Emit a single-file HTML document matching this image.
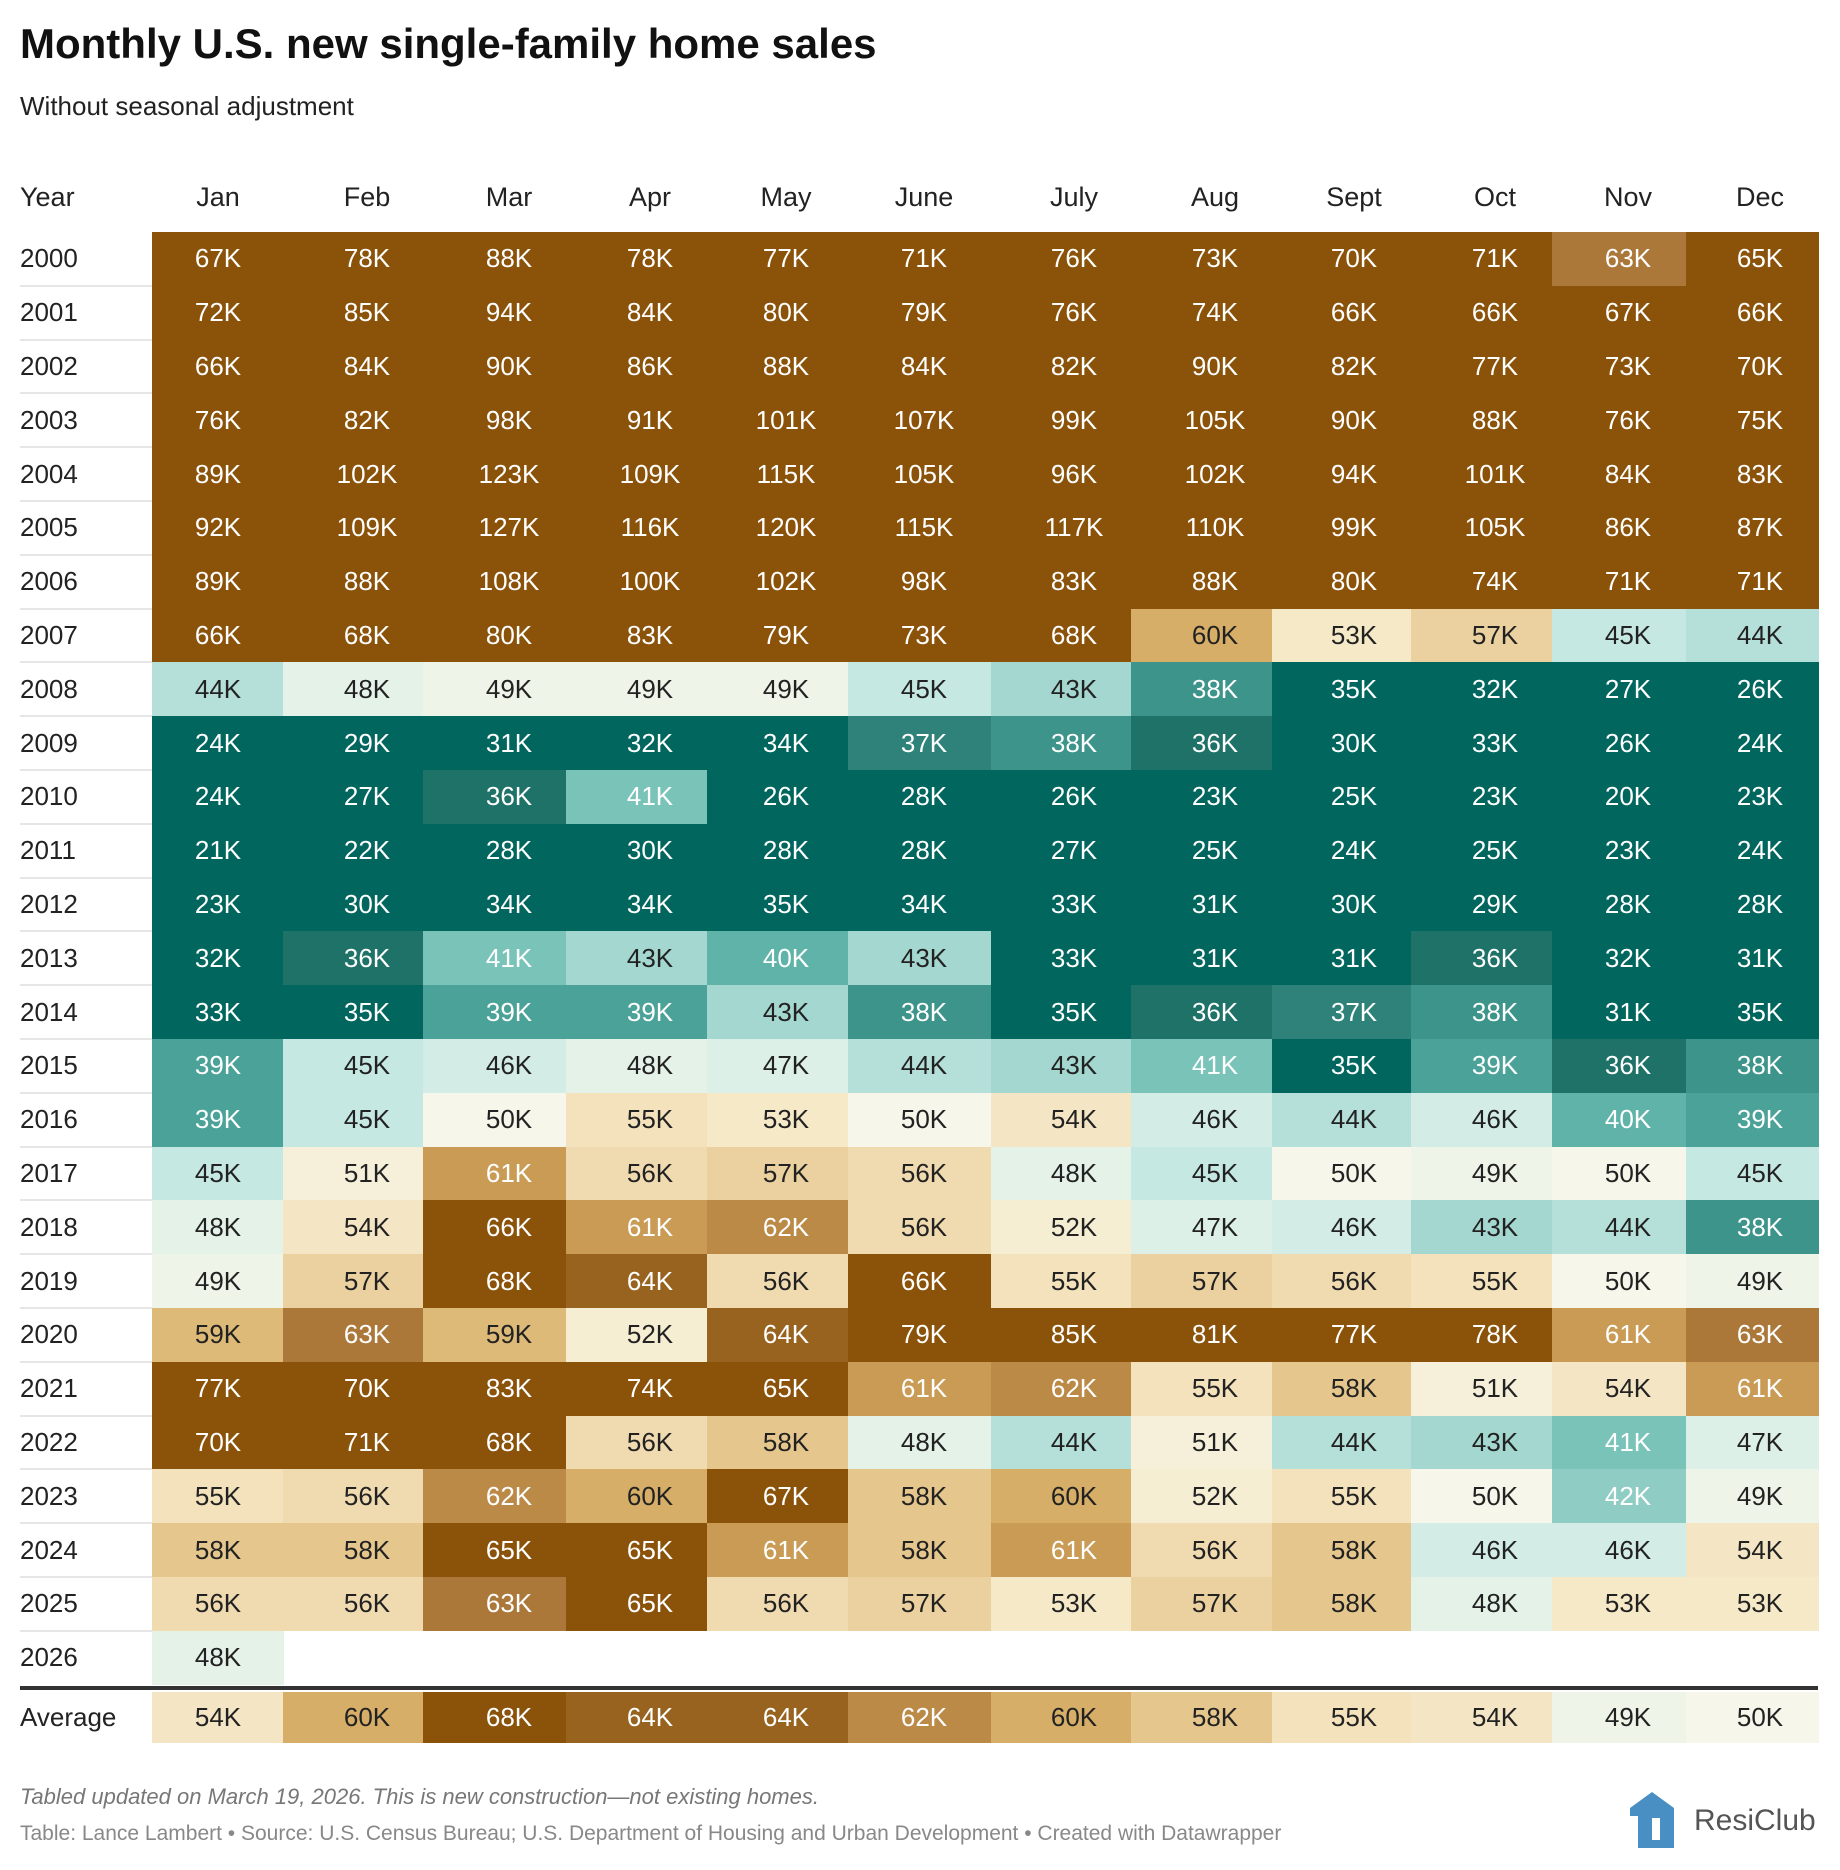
<!DOCTYPE html>
<html><head><meta charset="utf-8">
<style>
body{margin:0;background:#fff;font-family:"Liberation Sans",sans-serif;}
#wrap{position:relative;width:1840px;height:1870px;overflow:hidden;}
.t{position:absolute;white-space:nowrap;}
.cell{position:absolute;}
.lbl{position:absolute;font-size:26px;width:120px;margin-left:-60px;text-align:center;display:flex;align-items:center;justify-content:center;}
.yr{position:absolute;font-size:26px;color:#222;display:flex;align-items:center;}
.hd{position:absolute;font-size:27px;color:#222;text-align:center;width:120px;margin-left:-60px;}
.sep{position:absolute;height:2px;background:#e6e6e6;}
</style></head><body>
<div id="wrap">
<div class="t" style="left:20px;top:20px;font-size:42px;font-weight:bold;color:#111">Monthly U.S. new single-family home sales</div>
<div class="t" style="left:20px;top:91px;font-size:26px;color:#222">Without seasonal adjustment</div>
<div id="table"></div>
<div class="t" style="left:20px;top:1784px;font-size:22px;font-style:italic;color:#777">Tabled updated on March 19, 2026. This is new construction—not existing homes.</div>
<div class="t" style="left:20px;top:1822px;font-size:21px;color:#888">Table: Lance Lambert • Source: U.S. Census Bureau; U.S. Department of Housing and Urban Development • Created with Datawrapper</div>
<div style="position:absolute;left:1622px;top:1790px;width:200px;height:60px">
<svg width="60" height="60" viewBox="0 0 60 60"><polygon points="30,2 52,18 52,58 8,58 8,18" fill="#4a8fc4"/><rect x="6" y="26" width="10" height="32" fill="#fff"/><rect x="30" y="28" width="8" height="22" fill="#fff"/></svg>
<span class="t" style="left:72px;top:14px;font-size:30px;color:#555">ResiClub</span>
</div>
</div>
<script>
const months=["Jan","Feb","Mar","Apr","May","June","July","Aug","Sept","Oct","Nov","Dec"];
const years=["2000","2001","2002","2003","2004","2005","2006","2007","2008","2009","2010","2011","2012","2013","2014","2015","2016","2017","2018","2019","2020","2021","2022","2023","2024","2025","2026"];
const values=[
[67,78,88,78,77,71,76,73,70,71,63,65],
[72,85,94,84,80,79,76,74,66,66,67,66],
[66,84,90,86,88,84,82,90,82,77,73,70],
[76,82,98,91,101,107,99,105,90,88,76,75],
[89,102,123,109,115,105,96,102,94,101,84,83],
[92,109,127,116,120,115,117,110,99,105,86,87],
[89,88,108,100,102,98,83,88,80,74,71,71],
[66,68,80,83,79,73,68,60,53,57,45,44],
[44,48,49,49,49,45,43,38,35,32,27,26],
[24,29,31,32,34,37,38,36,30,33,26,24],
[24,27,36,41,26,28,26,23,25,23,20,23],
[21,22,28,30,28,28,27,25,24,25,23,24],
[23,30,34,34,35,34,33,31,30,29,28,28],
[32,36,41,43,40,43,33,31,31,36,32,31],
[33,35,39,39,43,38,35,36,37,38,31,35],
[39,45,46,48,47,44,43,41,35,39,36,38],
[39,45,50,55,53,50,54,46,44,46,40,39],
[45,51,61,56,57,56,48,45,50,49,50,45],
[48,54,66,61,62,56,52,47,46,43,44,38],
[49,57,68,64,56,66,55,57,56,55,50,49],
[59,63,59,52,64,79,85,81,77,78,61,63],
[77,70,83,74,65,61,62,55,58,51,54,61],
[70,71,68,56,58,48,44,51,44,43,41,47],
[55,56,62,60,67,58,60,52,55,50,42,49],
[58,58,65,65,61,58,61,56,58,46,46,54],
[56,56,63,65,56,57,53,57,58,48,53,53],
[48]
];
const averages=[54,60,68,64,64,62,60,58,55,54,49,50];
const palette={35:"#00665e",36:"#1f7268",37:"#2e8279",38:"#3d948a",39:"#4aa298",40:"#5fb3a8",41:"#79c3b9",42:"#8fcdc4",43:"#a3d7cf",44:"#b5dfd9",45:"#c6e8e2",46:"#d3ede6",47:"#dcf0e8",48:"#e4f2e8",49:"#eef4e8",50:"#f7f6ea",51:"#f6f0da",52:"#f6eed3",53:"#f5e9c8",54:"#f4e6c4",55:"#f3e2bc",56:"#f0dab0",57:"#ebd1a0",58:"#e5c68c",59:"#deba78",60:"#d6ae68",61:"#c99b55",62:"#bc8a47",63:"#ac783a",64:"#98621f",65:"#8b5209"};
function color(v){return palette[Math.max(35,Math.min(65,Math.round(v)))];}
function txt(v){return (v>=61||v<=42)?"#fff":"#222";}
const EDGES=[152,283,423,566,707,848,991,1131,1272,1411,1552,1686,1818];
const CENTERS=[218,367,509,650,786,924,1074,1215,1354,1495,1628,1760];
const X0=152,Y0=232,RH=53.8;
function xPos(i){return EDGES[i];}
function cw(i){return EDGES[i+1]-EDGES[i];}
function yPos(r){return Y0+r*RH;}
const tb=document.getElementById('table');
function add(cls,style,text,name){const d=document.createElement('div');d.className=cls;d.style.cssText=style;if(text!==undefined)d.textContent=text;


tb.appendChild(d);return d;}
function cellAt(i,top,h,v,name){
  add('cell',`left:${xPos(i)}px;top:${top}px;width:${cw(i)+0.5}px;height:${h}px;background:${color(v)}`,undefined,name);
  add('lbl',`left:${CENTERS[i]}px;top:${top}px;height:${h}px;color:${txt(v)}`,v+'K',name+'-label');
}
add('hd','left:20px;top:182px;text-align:left;margin-left:0','Year','header-year');
months.forEach((m,i)=>add('hd',`left:${CENTERS[i]}px;top:182px`,m,'header-'+m.toLowerCase()));
years.forEach((y,r)=>{
  add('yr',`left:20px;top:${yPos(r)}px;height:${RH}px`,y,'year-'+y);
  if(r<years.length-1) add('sep',`left:20px;top:${yPos(r+1)-1}px;width:${X0-20}px`,undefined,'row-separator');
  values[r].forEach((v,i)=>cellAt(i,yPos(r),RH,v,'cell-'+y+'-'+months[i].toLowerCase()));
});
const yl=yPos(years.length);
add('sep',`left:20px;top:${yl+1}px;width:1798px;height:4px;background:#333`,undefined,'average-divider');
const ya=yl+7;
add('yr',`left:20px;top:${ya}px;height:${RH-2}px`,'Average','average-label');
averages.forEach((v,i)=>cellAt(i,ya,RH-2,v,'average-'+months[i].toLowerCase()));
</script>
</body></html>
